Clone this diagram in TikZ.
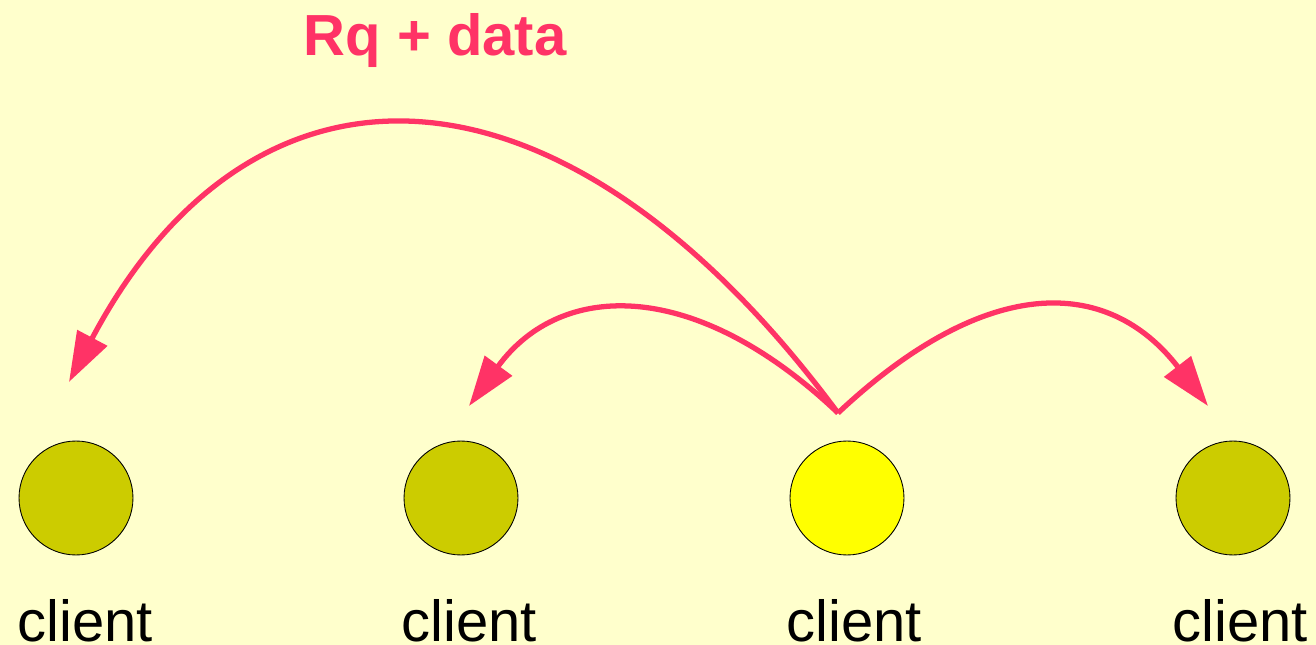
\documentclass[tikz,border=0pt]{standalone}
\usepackage{fontspec}
\setmainfont{Liberation Sans}
\usetikzlibrary{arrows.meta}
\definecolor{paper}{HTML}{FFFFCC}
\definecolor{peer}{HTML}{CCCC00}
\definecolor{selfpeer}{HTML}{FFFF00}
\definecolor{msg}{HTML}{FF3366}
\begin{document}
\begin{tikzpicture}
            [x=0.02cm, y=-0.02cm,
            client/.style={circle,draw,fill=peer,minimum size=2.28cm,inner sep=0pt,line width=0.5pt},
            tag/.style={anchor=base,inner sep=0pt,font=\fontsize{33}{33}\selectfont},
            flow/.style={msg,line width=3pt,line join=round,-{Triangle[length=1cm,width=0.66cm]}}]

            \fill[paper] (0,0) rectangle (1316,645);
            \useasboundingbox (0,0) rectangle (1316,645);

            \node[client] (c1) at (76,498) {};
            \node[client] (c2) at (461,498) {};
            \node[client, fill=selfpeer] (c3) at (847,498) {};
            \node[client] (c4) at (1233,498) {};

            \node[tag] (n1) at (85,641) {client};
            \node[tag] (n2) at (469,641) {client};
            \node[tag] (n3) at (854,641) {client};
            \node[tag] (n4) at (1240,641) {client};

            % request goes out from the yellow client
            \coordinate (src) at (838,413);
            \coordinate (t1) at (69,382);
            \coordinate (t2) at (469,406);
            \coordinate (t4) at (1208,406);

            \draw[flow] (src) .. controls (560,38) and (252,36) .. (t1);
            \draw[flow] (src) .. controls (697,279) and (562,279) .. (t2);
            \draw[flow] (src) .. controls (985,275) and (1107,275) .. (t4);

            % label for the long jump
            \node[tag, text=msg, font=\fontsize{33}{33}\selectfont\bfseries] (rq) at (435,56) {Rq + data};

        \end{tikzpicture}
\end{document}
